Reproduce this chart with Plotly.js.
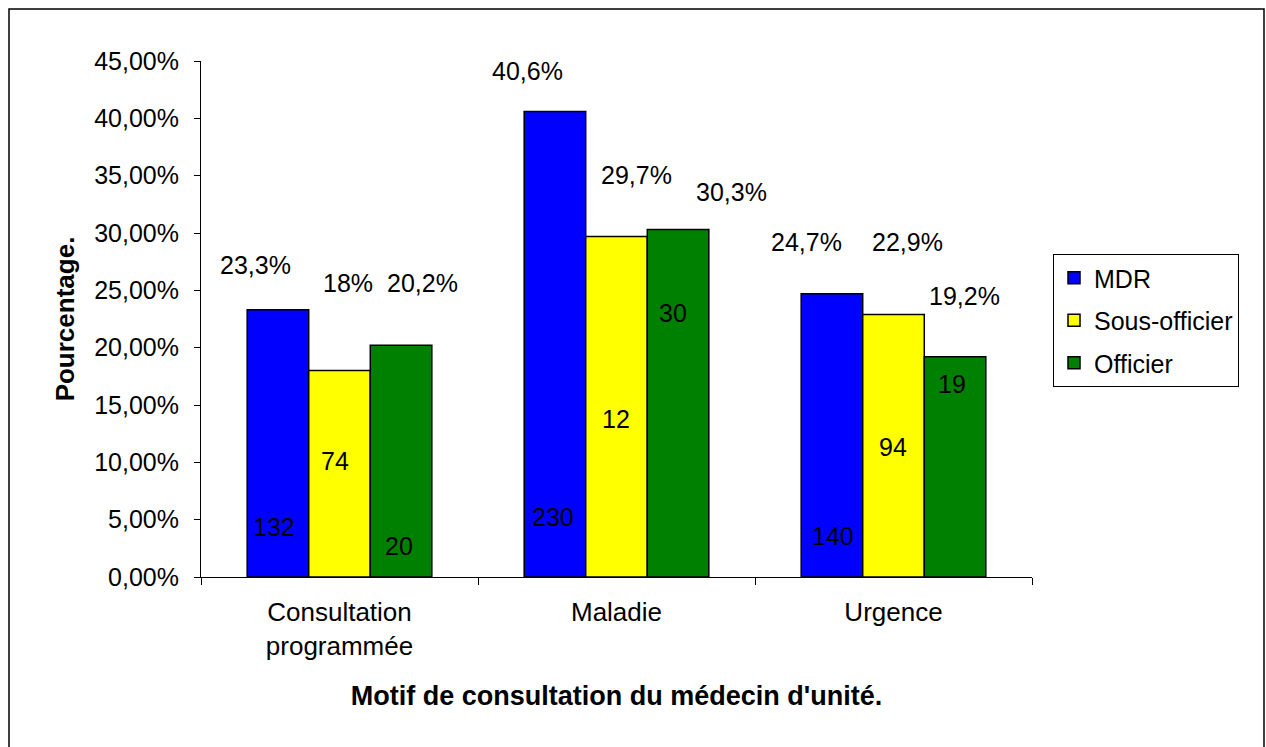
<!DOCTYPE html>
<html>
<head>
<meta charset="utf-8">
<script src="https://cdn.plot.ly/plotly-3.0.1.min.js"></script>
<style>
  html, body { margin: 0; padding: 0; background: #ffffff; }
  #chart { width: 1266px; height: 747px; }
</style>
</head>
<body>
<div id="chart"></div>
<script>
// ---- Data ----
const categories = ["Consultation<br>programmée", "Maladie", "Urgence"];
const seriesNames = ["MDR", "Sous-officier", "Officier"];
const mdrPct = [23.3, 40.6, 24.7];
const sousOfficierPct = [18.0, 29.7, 22.9];
const officierPct = [20.2, 30.3, 19.2];
const mdrCount = [132, 230, 140];
const sousOfficierCount = [74, 12, 94];
const officierCount = [20, 30, 19];
const yTickVals = [0, 5, 10, 15, 20, 25, 30, 35, 40, 45];

// ---- Styles / label placement (not data) ----
const colors = ["#0000FF", "#FFFF00", "#008000"];
// percent-label vertical position (in % units) and horizontal pixel nudge
const pctLabelY = [[27.2, 25.6, 25.6], [44.1, 35.1, 33.6], [29.2, 29.2, 24.5]];
const pctLabelDx = [[-22, 8, 21], [-27, 20, 53], [-25, 14, 9]];
// count-label vertical position (in % units) and horizontal pixel nudge
const cntLabelY = [[4.36, 10.1, 2.7], [5.23, 13.8, 23.0], [3.58, 11.3, 16.8]];
const cntLabelDx = [[-4, -5, -2], [-2, -1, -5], [1, -1, -3]];

const pctSeries = [mdrPct, sousOfficierPct, officierPct];
const cntSeries = [mdrCount, sousOfficierCount, officierCount];

const FONT = "Liberation Sans, Arial, sans-serif";

const traces = seriesNames.map((name, s) => ({
  type: "bar",
  name: name,
  x: categories,
  y: pctSeries[s].map(v => v / 100),
  marker: { color: colors[s], line: { color: "#000000", width: 1.5 } },
  legendgroup: "g" + s,
  hoverinfo: "skip"
}));

function fmtPct(v) {
  return v.toFixed(1).replace(".", ",").replace(/,0$/, "") + "%";
}

// plot-area geometry (pixels)
const W = 1266, H = 747;
const L = 201, R = 1032, T = 61, B = 577;
const bargap = 1 / 3;
const barW = (1 - bargap) / 3; // in category units

const annotations = [];
categories.forEach((c, i) => {
  for (let s = 0; s < 3; s++) {
    const xc = i + (s - 1) * barW;
    annotations.push({
      x: xc, y: pctLabelY[i][s] / 100, xref: "x", yref: "y",
      text: fmtPct(pctSeries[s][i]), showarrow: false,
      xshift: pctLabelDx[i][s],
      font: { family: FONT, size: 25, color: "#000" }
    });
    annotations.push({
      x: xc, y: cntLabelY[i][s] / 100, xref: "x", yref: "y",
      text: String(cntSeries[s][i]), showarrow: false,
      xshift: cntLabelDx[i][s],
      font: { family: FONT, size: 25, color: "#000" }
    });
  }
});

const pw = R - L, ph = B - T;
const px = v => (v - L) / pw;
const py = v => (B - v) / ph;

const layout = {
  width: W, height: H,
  margin: { l: L, r: W - R, t: T, b: H - B, pad: 0 },
  paper_bgcolor: "#ffffff",
  plot_bgcolor: "#ffffff",
  separators: ", ",
  barmode: "group",
  bargap: bargap,
  bargroupgap: 0,
  font: { family: FONT, color: "#000" },
  xaxis: {
    type: "category",
    showline: true, linecolor: "#000", linewidth: 1,
    ticks: "outside", tickson: "boundaries", ticklen: 7, tickcolor: "#000",
    showgrid: false, zeroline: false,
    tickfont: { family: FONT, size: 26, color: "#000" },
    ticklabelstandoff: 12,
    title: { text: "<b>Motif de consultation du médecin d'unité.</b>",
             font: { family: FONT, size: 27, color: "#000" }, standoff: 26 }
  },
  yaxis: {
    range: [0, 0.45],
    tickvals: yTickVals.map(v => v / 100),
    tickformat: ".2%",
    showline: true, linecolor: "#000", linewidth: 1,
    ticks: "outside", ticklen: 6, tickcolor: "#000",
    showgrid: false, zeroline: false,
    tickfont: { family: FONT, size: 25, color: "#000" },
    ticklabelstandoff: 10,
    title: { text: "<b>Pourcentage.</b>",
             font: { family: FONT, size: 26, color: "#000" }, standoff: 12 }
  },
  legend: {
    x: px(1053), y: py(254), xanchor: "left", yanchor: "top",
    bordercolor: "#000", borderwidth: 1, bgcolor: "#fff",
    font: { family: FONT, size: 25, color: "#000" },
    traceorder: "grouped", tracegroupgap: 7
  },
  shapes: [{
    type: "rect", xref: "paper", yref: "paper",
    x0: px(9), x1: px(1264), y0: py(770), y1: py(9),
    line: { color: "#000", width: 1.5 }, fillcolor: "rgba(0,0,0,0)", layer: "below"
  }],
  annotations: annotations,
  showlegend: true
};

Plotly.newPlot("chart", traces, layout, { staticPlot: true, displayModeBar: false });
</script>
</body>
</html>
